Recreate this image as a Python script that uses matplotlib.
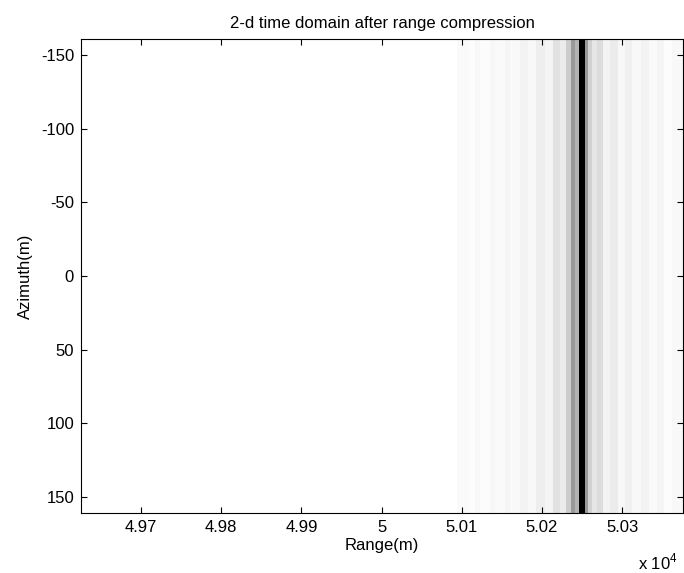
import numpy as np
import matplotlib
matplotlib.use("Agg")
import matplotlib.pyplot as plt

plt.rcParams['font.family'] = ['Liberation Sans', 'DejaVu Sans']
plt.rcParams['mathtext.fontset'] = 'custom'
plt.rcParams['mathtext.rm'] = 'Liberation Sans'
plt.rcParams['axes.unicode_minus'] = False

# Range-compressed profile (same for every azimuth line)
range_edges = [49625, 50094, 50110, 50117, 50123, 50135, 50142, 50154, 50160,
               50173, 50183, 50192, 50204, 50214, 50223, 50230, 50236, 50241,
               50246, 50254, 50258, 50263, 50269, 50276, 50285, 50295, 50304,
               50313, 50323, 50333, 50343, 50352, 50362, 50376]
darkness = [0.0, 0.02, 0.01, 0.03, 0.015, 0.035, 0.02, 0.04, 0.025,
            0.05, 0.03, 0.07, 0.045, 0.12, 0.08, 0.20, 0.40, 0.30,
            1.0, 0.40, 0.18, 0.10, 0.14, 0.05, 0.08, 0.035, 0.06,
            0.03, 0.05, 0.02, 0.04, 0.015, 0.03]
azimuth_edges = [-161, 161]

xticks = [49700, 49800, 49900, 50000, 50100, 50200, 50300]
yticks = [-150, -100, -50, 0, 50, 100, 150]

img = np.array([darkness])

fig = plt.figure(figsize=(6.84, 5.73), dpi=100)
ax = fig.add_axes([81 / 684, 60 / 573, 602 / 684, 474 / 573])
ax.pcolormesh(range_edges, azimuth_edges, img, cmap='gray_r', vmin=0, vmax=1,
              shading='flat')
ax.set_xlim(49625, 50376)
ax.set_ylim(161, -161)

ax.set_xticks(xticks)
ax.set_xticklabels([f"{v / 1e4:g}" for v in xticks])
ax.set_yticks(yticks)
ax.tick_params(direction='in', length=4, width=0.8, top=True, right=True,
               labelsize=12, pad=5)
for s in ax.spines.values():
    s.set_linewidth(0.8)

ax.set_title("2-d time domain after range compression", fontsize=12, pad=8)
ax.set_xlabel("Range(m)", fontsize=12, labelpad=2)
ax.set_ylabel("Azimuth(m)", fontsize=12, labelpad=6)
fig.text(658 / 684, 1 - 562 / 573, "x 10$^4$", fontsize=12, ha='center', va='center')

fig.savefig("out.png", dpi=100)
